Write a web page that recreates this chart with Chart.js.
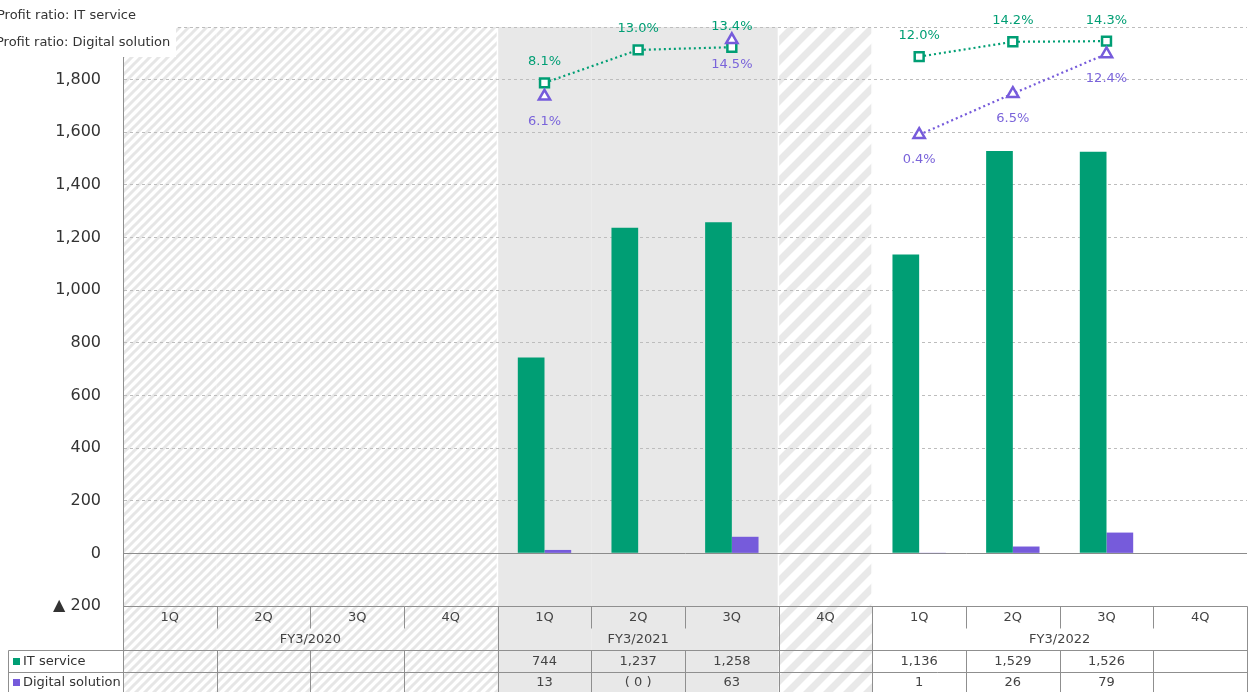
<!DOCTYPE html>
<html>
<head>
<meta charset="utf-8">
<script src="https://cdn.jsdelivr.net/npm/chart.js@4.4.1/dist/chart.umd.min.js"></script>
<style>
  html, body { margin: 0; padding: 0; background: #fff; }
  #wrap { width: 1256px; height: 692px; }
</style>
</head>
<body>
<div id="wrap"><canvas id="segmentChart" width="1256" height="692"></canvas></div>
<script>
// quarterly operating profit by segment (million yen) and profit ratio (%)
const quarters = ['1Q', '2Q', '3Q', '4Q', '1Q', '2Q', '3Q', '4Q', '1Q', '2Q', '3Q', '4Q'];
const fiscalYears = ['FY3/2020', 'FY3/2021', 'FY3/2022'];
const fiscalSpans = [[0, 3], [4, 6], [8, 11]];
const itService = [null, null, null, null, 744, 1237, 1258, null, 1136, 1529, 1526, null];
const digitalSolution = [null, null, null, null, 13, 0, 63, null, 1, 26, 79, null];
const ratioIT = [null, null, null, null, 8.1, 13.0, 13.4, null, 12.0, 14.2, 14.3, null];
const ratioDigital = [null, null, null, null, 6.1, null, 14.5, null, 0.4, 6.5, 12.4, null];
// background of each quarter column
const columnBg = ['hatch', 'hatch', 'hatch', 'hatch', 'shade', 'shade', 'shade', 'wide', 'plain', 'plain', 'plain', 'plain'];

const GREEN = '#009e74';
const PURPLE = '#765bdb';
const FONT = "'DejaVu Sans', Verdana, sans-serif";

function fmt(v) {
  if (v === null) return '';
  if (v === 0) return '( 0 )';
  return v.toLocaleString('en-US');
}

// diagonal stripes, period p px
function makeHatch(ctx, p, lw, color) {
  const c = document.createElement('canvas');
  c.width = p; c.height = p;
  const g = c.getContext('2d');
  g.fillStyle = '#fff';
  g.fillRect(0, 0, p, p);
  g.strokeStyle = color;
  g.lineWidth = lw;
  g.beginPath();
  g.moveTo(-p * 0.25, p * 1.25); g.lineTo(p * 1.25, -p * 0.25);
  g.moveTo(-p * 0.75, p * 0.75); g.lineTo(p * 0.75, -p * 0.75);
  g.moveTo(p * 0.25, p * 1.75); g.lineTo(p * 1.75, p * 0.25);
  g.stroke();
  return ctx.createPattern(c, 'repeat');
}

const backgroundPlugin = {
  id: 'columnBackground',
  beforeDraw(chart) {
    const { ctx, chartArea } = chart;
    const w = (chartArea.right - chartArea.left) / quarters.length;
    const fine = makeHatch(ctx, 9, 3, '#e6e6e6');
    const wide = makeHatch(ctx, 20, 7, '#e9e9e9');
    ctx.save();
    columnBg.forEach((style, i) => {
      const x0 = chartArea.left + i * w;
      if (style === 'hatch') ctx.fillStyle = fine;
      else if (style === 'wide') ctx.fillStyle = wide;
      else if (style === 'shade') ctx.fillStyle = '#e8e8e8';
      else return;
      ctx.fillRect(x0, chartArea.top, w, chart.height - chartArea.top);
    });
    // thin white gap where the background style changes
    ctx.fillStyle = '#fff';
    for (let i = 1; i < columnBg.length; i++) {
      if (columnBg[i] !== columnBg[i - 1]) {
        ctx.fillRect(chartArea.left + i * w - 1, chartArea.top, 1.5, chartArea.bottom - chartArea.top);
      }
    }
    ctx.restore();
  },
  afterDraw(chart) {
    const { ctx, chartArea } = chart;
    const left = chartArea.left, right = chartArea.right, top = chartArea.bottom;
    const w = (right - left) / quarters.length;
    const H = chart.height;
    const rowH = 22;

    ctx.save();
    // ratio labels
    ctx.font = '13px ' + FONT;
    ctx.textAlign = 'center';
    ctx.textBaseline = 'middle';
    chart.getDatasetMeta(2).data.forEach((pt, i) => {
      if (ratioIT[i] === null) return;
      ctx.fillStyle = GREEN;
      ctx.fillText(ratioIT[i].toFixed(1) + '%', pt.x, pt.y - 21);
    });
    chart.getDatasetMeta(3).data.forEach((pt, i) => {
      if (ratioDigital[i] === null) return;
      ctx.fillStyle = '#7a64da';
      ctx.fillText(ratioDigital[i].toFixed(1) + '%', pt.x, pt.y + 25);
    });

    // legend for the ratio lines
    ctx.fillStyle = '#fff';
    ctx.fillRect(0, 0, 176, 57);
    ctx.fillStyle = '#333';
    ctx.textAlign = 'left';
    ctx.fillText('Profit ratio: IT service', -3, 16);
    ctx.fillText('Profit ratio: Digital solution', -4, 43);

    // data table under the plot
    ctx.strokeStyle = '#8f8f8f';
    ctx.lineWidth = 1;
    const line = (x1, y1, x2, y2) => {
      ctx.beginPath();
      ctx.moveTo(Math.round(x1) + 0.5, Math.round(y1) + 0.5);
      ctx.lineTo(Math.round(x2) + 0.5, Math.round(y2) + 0.5);
      ctx.stroke();
    };
    ctx.fillStyle = '#fff';
    ctx.fillRect(0, top + rowH * 2, left, H);
    line(left, top, right, top);
    line(8, top + rowH * 2, right, top + rowH * 2);
    line(8, top + rowH * 3, right, top + rowH * 3);
    line(8, top + rowH * 2, 8, H);
    line(left, 57, left, H);
    line(right, top, right, H);
    const fyEdges = fiscalSpans.map(s => s[0]).concat(fiscalSpans.map(s => s[1] + 1));
    for (let i = 1; i < quarters.length; i++) {
      const x = left + i * w;
      if (fyEdges.includes(i)) line(x, top, x, H);
      else {
        line(x, top, x, top + rowH);
        line(x, top + rowH * 2, x, H);
      }
    }

    ctx.textAlign = 'center';
    ctx.fillStyle = '#444';
    quarters.forEach((q, i) => {
      const cx = left + (i + 0.5) * w;
      ctx.fillText(q, cx, top + 12);
      ctx.fillText(fmt(itService[i]), cx, top + rowH * 2 + 12);
      ctx.fillText(fmt(digitalSolution[i]), cx, top + rowH * 3 + 11);
    });
    fiscalYears.forEach((fy, k) => {
      const [a, b] = fiscalSpans[k];
      ctx.fillText(fy, left + (a + b + 1) / 2 * w, top + 34);
    });

    ctx.textAlign = 'left';
    ctx.fillStyle = GREEN;
    ctx.fillRect(13, top + rowH * 2 + 8, 7, 7);
    ctx.fillStyle = PURPLE;
    ctx.fillRect(13, top + rowH * 3 + 7, 7, 7);
    ctx.fillStyle = '#333';
    ctx.fillText('IT service', 23, top + rowH * 2 + 12);
    ctx.fillText('Digital solution', 23, top + rowH * 3 + 11);
    ctx.restore();
  }
};

const config = {
  data: {
    labels: quarters,
    datasets: [
      {
        type: 'bar',
        label: 'IT service',
        data: itService,
        backgroundColor: GREEN,
        categoryPercentage: 0.57,
        barPercentage: 1.0,
        yAxisID: 'y',
        order: 2
      },
      {
        type: 'bar',
        label: 'Digital solution',
        data: digitalSolution,
        backgroundColor: PURPLE,
        categoryPercentage: 0.57,
        barPercentage: 1.0,
        yAxisID: 'y',
        order: 3
      },
      {
        type: 'line',
        label: 'Profit ratio: IT service',
        data: ratioIT,
        yAxisID: 'y2',
        borderColor: GREEN,
        borderWidth: 2.2,
        borderDash: [2, 3],
        pointStyle: 'rect',
        pointRadius: 6.3,
        pointBorderWidth: 2.5,
        pointBorderColor: GREEN,
        pointBackgroundColor: '#fff',
        order: 1
      },
      {
        type: 'line',
        label: 'Profit ratio: Digital solution',
        data: ratioDigital,
        yAxisID: 'y2',
        borderColor: PURPLE,
        borderWidth: 2.2,
        borderDash: [2, 3],
        pointStyle: 'triangle',
        pointRadius: 6.5,
        pointBorderWidth: 2.5,
        pointBorderColor: PURPLE,
        pointBackgroundColor: '#fff',
        order: 0
      }
    ]
  },
  options: {
    responsive: false,
    animation: false,
    layout: { padding: { top: 27, right: 1, bottom: 86, left: 0 } },
    plugins: {
      legend: { display: false },
      tooltip: { enabled: false }
    },
    scales: {
      x: {
        display: false,
        offset: true,
        grid: { display: false }
      },
      y: {
        min: -200,
        max: 2000,
        afterFit(scale) {
          scale.width = 123;
          scale.paddingTop = 0;
          scale.paddingBottom = 0;
        },
        ticks: {
          stepSize: 200,
          padding: 22,
          color: '#333',
          font: { family: FONT, size: 16 },
          callback: v => v === 2000 ? '' : (v < 0 ? '\u25B2 ' + Math.abs(v) : v.toLocaleString('en-US'))
        },
        grid: {
          drawTicks: false,
          color: ctx => ctx.tick && ctx.tick.value === 0 ? '#8c8c8c' : '#bdbdbd',
          lineWidth: 1
        },
        border: {
          display: true,
          color: '#8c8c8c',
          dash: ctx => ctx.tick && ctx.tick.value === 0 ? [] : [3, 3]
        }
      },
      y2: {
        display: false,
        min: -69.6,
        max: 16.4
      }
    }
  },
  plugins: [backgroundPlugin]
};

window.addEventListener('DOMContentLoaded', () => {
  const canvas = document.getElementById('segmentChart');
  new Chart(canvas.getContext('2d'), config);
});
</script>
</body>
</html>
